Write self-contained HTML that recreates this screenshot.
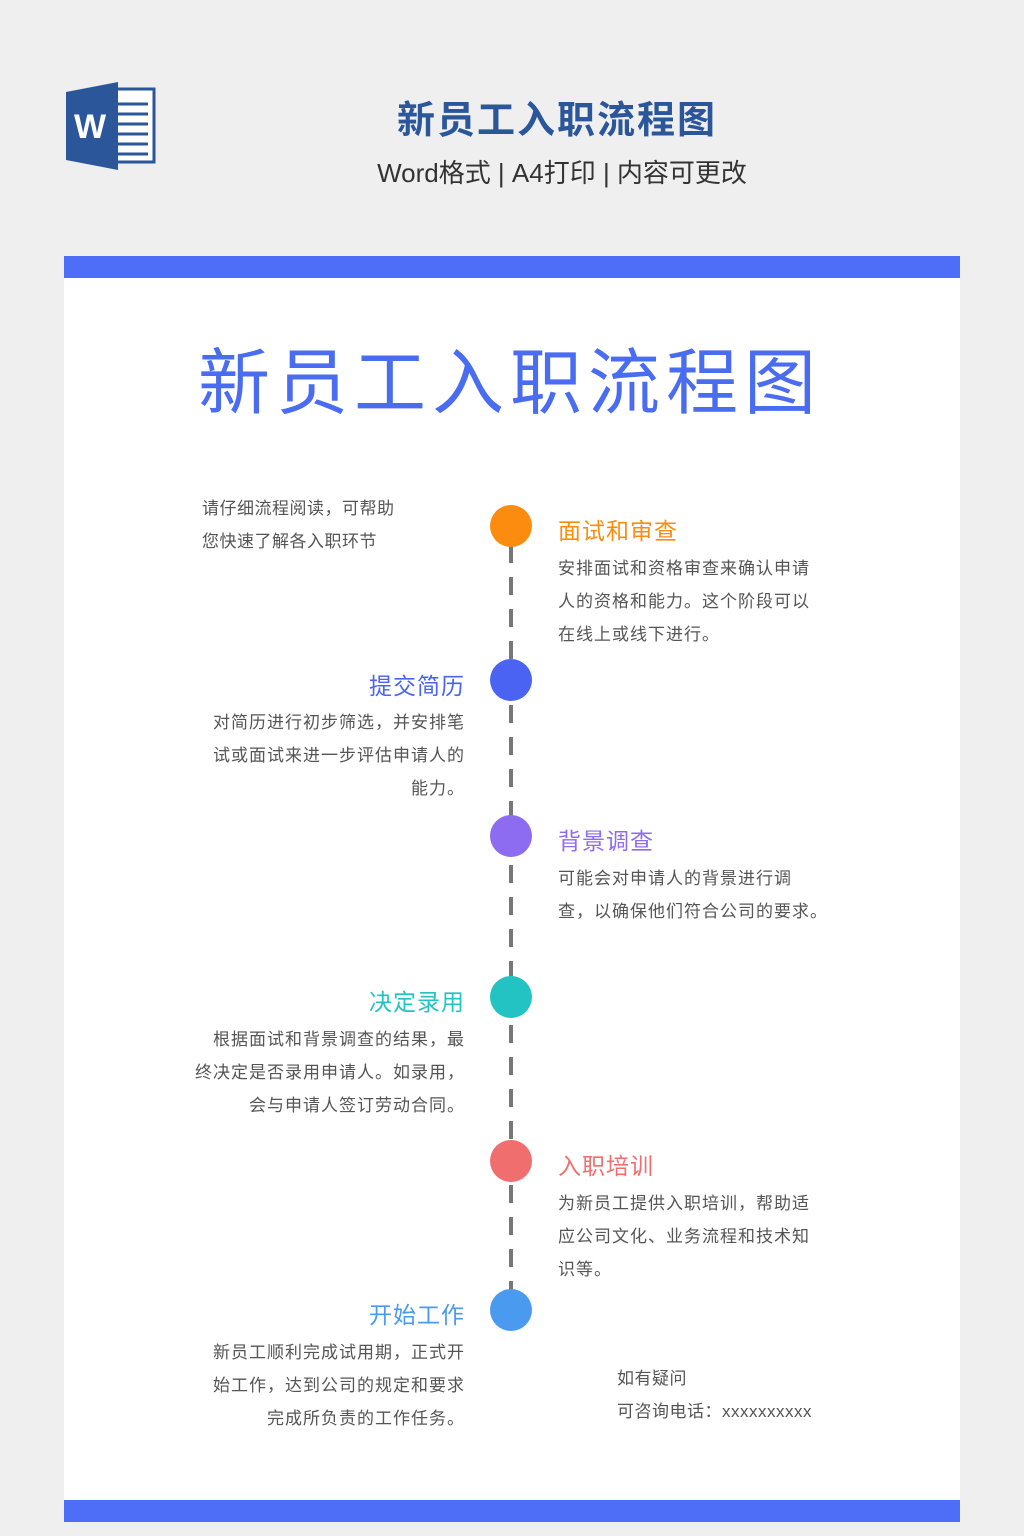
<!DOCTYPE html>
<html><head><meta charset="utf-8"><style>
*{margin:0;padding:0;box-sizing:border-box}
body{width:1024px;height:1536px;background:#efefef;position:relative;font-family:"Liberation Sans","Noto Sans CJK SC",sans-serif;overflow:hidden}
.a{position:absolute;white-space:nowrap}
.t{font-size:23px;letter-spacing:1px}
.b{font-size:17px;color:#555;line-height:33px;letter-spacing:1px}
.r{text-align:right}
.dot{position:absolute;width:42px;height:42px;border-radius:50%;left:490px}
</style></head><body>
<svg class="a" style="left:64px;top:80px" width="92" height="92">
<rect x="36" y="9" width="54" height="73" fill="#fff" stroke="#2b579a" stroke-width="3"/>
<g stroke="#2b579a" stroke-width="3"><line x1="52" y1="24" x2="84" y2="24"/><line x1="52" y1="34" x2="84" y2="34"/><line x1="52" y1="44" x2="84" y2="44"/><line x1="52" y1="54" x2="84" y2="54"/><line x1="52" y1="64" x2="84" y2="64"/><line x1="52" y1="74" x2="84" y2="74"/></g>
<polygon points="2,12 54,2 54,90 2,80" fill="#2b579a"/>
<text x="26" y="58" font-size="34" font-weight="bold" fill="#fff" text-anchor="middle" font-family="Liberation Sans">W</text>
</svg>
<div class="a" style="left:0;width:1114px;text-align:center;top:89px;font-size:38px;font-weight:bold;color:#2b579a;letter-spacing:2px">新员工入职流程图</div>
<div class="a" style="left:0;width:1124px;text-align:center;top:153px;font-size:26px;color:#333">Word格式 | A4打印 | 内容可更改</div>
<div class="a" style="left:64px;top:256px;width:896px;height:1266px;background:#fff"></div>
<div class="a" style="left:64px;top:256px;width:896px;height:22px;background:#4f6ef7"></div>
<div class="a" style="left:64px;top:1500px;width:896px;height:22px;background:#4f6ef7"></div>
<div class="a" style="left:-2px;width:1024px;text-align:center;top:324px;font-size:72px;color:#4a6cf0;letter-spacing:6px">新员工入职流程图</div>
<svg class="a" style="left:0;top:0" width="1024" height="1536"><line x1="511" y1="545" x2="511" y2="1295" stroke="#777" stroke-width="4" stroke-dasharray="18 14"/></svg>
<div class="dot" style="top:505px;background:#fb8c0f"></div>
<div class="dot" style="top:659px;background:#4a63f2"></div>
<div class="dot" style="top:815px;background:#8e6cf2"></div>
<div class="dot" style="top:976px;background:#23c3c3"></div>
<div class="dot" style="top:1140px;background:#f06e6e"></div>
<div class="dot" style="top:1289px;background:#4a9af0"></div>
<div class="a b" style="left:202px;top:492px;letter-spacing:0.5px">请仔细流程阅读，可帮助<br>您快速了解各入职环节</div>
<div class="a t" style="left:558px;top:512px;color:#fb8c0f">面试和审查</div>
<div class="a b" style="left:558px;top:552px">安排面试和资格审查来确认申请<br>人的资格和能力。这个阶段可以<br>在线上或线下进行。</div>
<div class="a t r" style="right:559px;top:667px;color:#4a63f2">提交简历</div>
<div class="a b r" style="right:559px;top:706px">对简历进行初步筛选，并安排笔<br>试或面试来进一步评估申请人的<br>能力。</div>
<div class="a t" style="left:558px;top:822px;color:#8e6cf2">背景调查</div>
<div class="a b" style="left:558px;top:862px">可能会对申请人的背景进行调<br>查，以确保他们符合公司的要求。</div>
<div class="a t r" style="right:559px;top:983px;color:#23c3c3">决定录用</div>
<div class="a b r" style="right:559px;top:1023px">根据面试和背景调查的结果，最<br>终决定是否录用申请人。如录用，<br>会与申请人签订劳动合同。</div>
<div class="a t" style="left:558px;top:1147px;color:#f06e6e">入职培训</div>
<div class="a b" style="left:558px;top:1187px">为新员工提供入职培训，帮助适<br>应公司文化、业务流程和技术知<br>识等。</div>
<div class="a t r" style="right:559px;top:1296px;color:#4a9af0">开始工作</div>
<div class="a b r" style="right:559px;top:1336px">新员工顺利完成试用期，正式开<br>始工作，达到公司的规定和要求<br>完成所负责的工作任务。</div>
<div class="a b" style="left:617px;top:1362px;letter-spacing:0.5px">如有疑问<br>可咨询电话：xxxxxxxxxx</div>
</body></html>
